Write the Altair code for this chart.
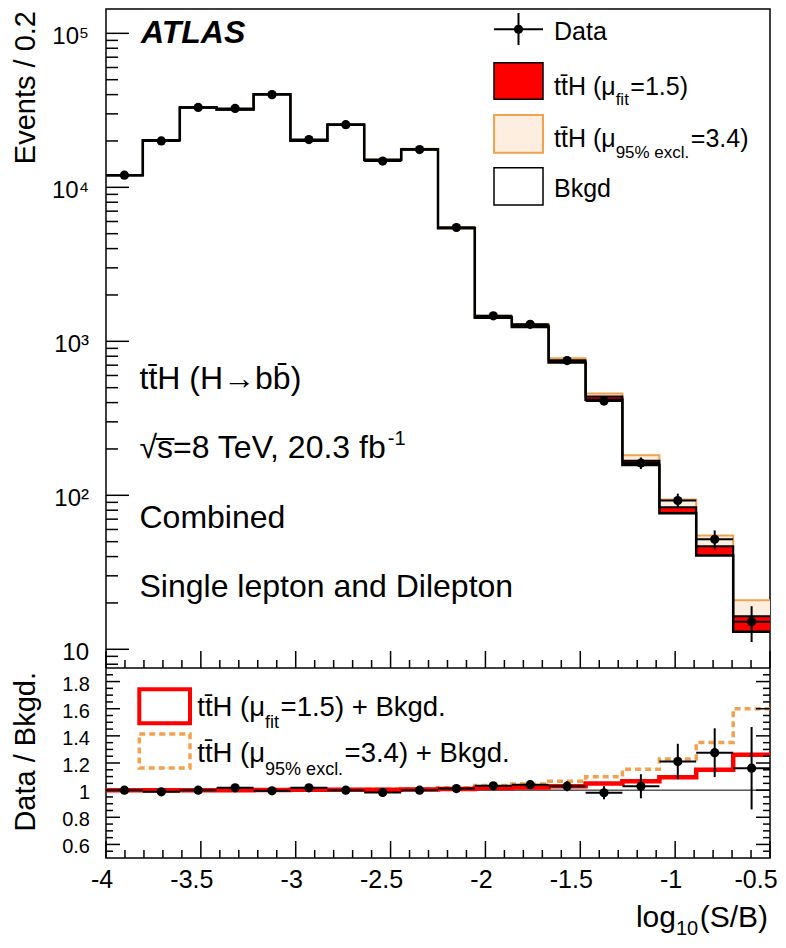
import altair as alt
import pandas as pd

# ---------------- data ----------------
bin_edges = [-4.0, -3.806, -3.611, -3.417, -3.222, -3.028, -2.833, -2.639, -2.444,
             -2.25, -2.056, -1.861, -1.667, -1.472, -1.278, -1.083, -0.889, -0.694, -0.5]
bkgd = [12000, 20250, 33000, 32000, 40200, 20100, 25500, 15050, 17600,
        5420, 1420, 1240, 729, 417, 157.5, 76.4, 40.6, 13.0]
data_vals = [12000, 20000, 33000, 32550, 40000, 20440, 25500, 14800, 17600,
             5485, 1465, 1290, 750, 409, 162, 92.5, 51.8, 15.1]
data_err = [110, 141, 182, 180, 200, 143, 160, 122, 133,
            74, 38, 36, 27, 20, 14, 10, 7.3, 3.95]
fit_ratio = [1.0, 1.0, 1.0, 1.0, 1.001, 1.002, 1.002, 1.003, 1.005,
             1.008, 1.015, 1.02, 1.029, 1.049, 1.066, 1.095, 1.151, 1.261]
excl_ratio = [1.0, 1.0, 1.0, 1.001, 1.002, 1.004, 1.005, 1.007, 1.011,
              1.018, 1.034, 1.045, 1.066, 1.098, 1.154, 1.23, 1.351, 1.60]

x_major = [-4, -3.5, -3, -2.5, -2, -1.5, -1, -0.5]
x_major_text = ["-4", "-3.5", "-3", "-2.5", "-2", "-1.5", "-1", "-0.5"]
y_top_major = [10, 100, 1000, 10000, 100000]
y_top_text = ["10", "10²", "10³", "10⁴", "10⁵"]
y_bot_major = [0.6, 0.8, 1.0, 1.2, 1.4, 1.6, 1.8]
y_bot_text = ["0.6", "0.8", "1", "1.2", "1.4", "1.6", "1.8"]

# ---------------- style / layout ----------------
FONT = "Liberation Sans"
RED = "#ff0000"
ORANGE = "#f2a24f"
PALE = "#fdeedf"
W, H = 664, 849
HT = 659  # bottom of upper panel in plot coordinates

XS = alt.Scale(domain=[-4, -0.5], nice=False, zero=False)
YT = alt.Scale(type="log", domain=[7.56, 143900], range=[HT, 0], nice=False)
YB = alt.Scale(domain=[0.5, 1.9], range=[H, HT], nice=False, zero=False)

bins = pd.DataFrame({"lo": bin_edges[:-1], "hi": bin_edges[1:], "B": bkgd,
                     "data": data_vals, "err": data_err,
                     "fit": fit_ratio, "excl": excl_ratio})
bins["mid"] = (bins.lo + bins.hi) / 2
bins["fit_top"] = bins.B * bins.fit
bins["excl_top"] = bins.B * bins.excl
bins["d_lo"] = bins.data - bins.err
bins["d_hi"] = bins.data + bins.err
bins["r"] = bins.data / bins.B
bins["r_lo"] = bins.d_lo / bins.B
bins["r_hi"] = bins.d_hi / bins.B

steps = pd.DataFrame({"x": bin_edges,
                      "B": bkgd + bkgd[-1:],
                      "fit_top": list(bins.fit_top) + [bins.fit_top.iloc[-1]],
                      "excl_top": list(bins.excl_top) + [bins.excl_top.iloc[-1]],
                      "fit": fit_ratio + fit_ratio[-1:],
                      "excl": excl_ratio + excl_ratio[-1:]})

# tick positions
x_minor = [round(-4 + 0.1 * k, 3) for k in range(36)]
x_minor = [v for v in x_minor if min(abs(v - m) for m in x_major) > 1e-6]
y_top_minor = [m * 10 ** e for e in range(0, 6) for m in range(2, 10)
               if 7.56 <= m * 10 ** e <= 143900]
y_bot_minor = [round(0.55 + 0.05 * k, 3) for k in range(27)]
y_bot_minor = [v for v in y_bot_minor if min(abs(v - m) for m in y_bot_major) > 1e-6]

df_xmaj = pd.DataFrame({"v": x_major, "t": x_major_text})
df_xmin = pd.DataFrame({"v": x_minor})
df_ytmaj = pd.DataFrame({"v": y_top_major, "t": y_top_text})
df_ytmin = pd.DataFrame({"v": y_top_minor})
df_ybmaj = pd.DataFrame({"v": y_bot_major, "t": y_bot_text})
df_ybmin = pd.DataFrame({"v": y_bot_minor})
df_xlab_int = df_xmaj[df_xmaj.v % 1 == 0]
df_xlab_dec = df_xmaj[(df_xmaj.v % 1 != 0) & (df_xmaj.v > -4) & (df_xmaj.v < -0.5)]
df_xlab_end = df_xmaj[df_xmaj.v == -0.5]


def xq(f):
    return alt.X(f, type="quantitative", scale=XS, axis=None)


def ytq(f):
    return alt.Y(f, type="quantitative", scale=YT, axis=None)


def ybq(f):
    return alt.Y(f, type="quantitative", scale=YB, axis=None)


def tick_rule(df):
    return alt.Chart(df).mark_rule(color="black", strokeWidth=1.5)


# ---------------- upper panel ----------------
u_excl_rect = alt.Chart(bins).mark_rect(fill=PALE).encode(
    x=xq("lo"), x2=alt.X2("hi"), y=ytq("B"), y2=alt.Y2("excl_top"))
u_excl_line = alt.Chart(steps).mark_line(interpolate="step-after", color=ORANGE,
                                         strokeWidth=2).encode(x=xq("x"), y=ytq("excl_top"))
u_fit_rect = alt.Chart(bins).mark_rect(fill=RED).encode(
    x=xq("lo"), x2=alt.X2("hi"), y=ytq("B"), y2=alt.Y2("fit_top"))
u_fit_line = alt.Chart(steps).mark_line(interpolate="step-after", color="black",
                                        strokeWidth=2).encode(x=xq("x"), y=ytq("fit_top"))
u_bkg_line = alt.Chart(steps).mark_line(interpolate="step-after", color="black",
                                        strokeWidth=2.5).encode(x=xq("x"), y=ytq("B"))
u_hbar = alt.Chart(bins).mark_rule(color="black", strokeWidth=2).encode(
    x=xq("lo"), x2=alt.X2("hi"), y=ytq("data"))
u_vbar = alt.Chart(bins).mark_rule(color="black", strokeWidth=2).encode(
    x=xq("mid"), y=ytq("d_lo"), y2=alt.Y2("d_hi"))
u_pts = alt.Chart(bins).mark_circle(color="black", opacity=1, size=85).encode(
    x=xq("mid"), y=ytq("data"))
u_ytick_maj = tick_rule(df_ytmaj).encode(x=alt.value(0), x2=alt.value(23), y=ytq("v"))
u_ytick_min = tick_rule(df_ytmin).encode(x=alt.value(0), x2=alt.value(12), y=ytq("v"))
u_xtick_maj = tick_rule(df_xmaj).encode(x=xq("v"), y=alt.value(HT - 17), y2=alt.value(HT))
u_xtick_min = tick_rule(df_xmin).encode(x=xq("v"), y=alt.value(HT - 8), y2=alt.value(HT))
u_ylab = alt.Chart(df_ytmaj).mark_text(align="right", baseline="middle", font=FONT,
                                       fontSize=24, dy=4, color="black").encode(
    x=alt.value(-17), y=ytq("v"), text="t:N")

upper = alt.layer(u_excl_rect, u_excl_line, u_fit_rect, u_fit_line, u_bkg_line,
                  u_hbar, u_vbar, u_pts, u_ytick_maj, u_ytick_min,
                  u_xtick_maj, u_xtick_min, u_ylab)

# ---------------- lower (ratio) panel ----------------
one_row = pd.DataFrame({"one": [1.0]})
l_unity = alt.Chart(one_row).mark_rule(color="black", strokeWidth=1).encode(
    x=alt.value(0), x2=alt.value(W), y=ybq("one"))
l_excl = alt.Chart(steps).mark_line(interpolate="step-after", color=ORANGE,
                                    strokeWidth=3.5, strokeDash=[6, 4]).encode(
    x=xq("x"), y=ybq("excl"))
l_fit = alt.Chart(steps).mark_line(interpolate="step-after", color=RED,
                                   strokeWidth=4.5).encode(x=xq("x"), y=ybq("fit"))
l_hbar = alt.Chart(bins).mark_rule(color="black", strokeWidth=2).encode(
    x=xq("lo"), x2=alt.X2("hi"), y=ybq("r"))
l_vbar = alt.Chart(bins).mark_rule(color="black", strokeWidth=2).encode(
    x=xq("mid"), y=ybq("r_lo"), y2=alt.Y2("r_hi"))
l_pts = alt.Chart(bins).mark_circle(color="black", opacity=1, size=85).encode(
    x=xq("mid"), y=ybq("r"))
l_ytick_maj_l = tick_rule(df_ybmaj).encode(x=alt.value(0), x2=alt.value(14), y=ybq("v"))
l_ytick_min_l = tick_rule(df_ybmin).encode(x=alt.value(0), x2=alt.value(7), y=ybq("v"))
l_ytick_maj_r = tick_rule(df_ybmaj).encode(x=alt.value(W - 14), x2=alt.value(W), y=ybq("v"))
l_ytick_min_r = tick_rule(df_ybmin).encode(x=alt.value(W - 7), x2=alt.value(W), y=ybq("v"))
l_xtick_maj = tick_rule(df_xmaj).encode(x=xq("v"), y=alt.value(H - 17), y2=alt.value(H))
l_xtick_min = tick_rule(df_xmin).encode(x=xq("v"), y=alt.value(H - 8), y2=alt.value(H))
l_ylab = alt.Chart(df_ybmaj).mark_text(align="right", baseline="middle", font=FONT,
                                       fontSize=20, dy=3, color="black").encode(
    x=alt.value(-16), y=ybq("v"), text="t:N")


def xlab(df, dx):
    return alt.Chart(df).mark_text(align="center", baseline="alphabetic", font=FONT,
                                   fontSize=25, dx=dx, color="black").encode(
        x=xq("v"), y=alt.value(H + 30), text="t:N")


lower = alt.layer(l_unity, l_excl, l_fit, l_hbar, l_vbar, l_pts,
                  l_ytick_maj_l, l_ytick_min_l, l_ytick_maj_r, l_ytick_min_r,
                  l_xtick_maj, l_xtick_min, l_ylab,
                  xlab(df_xlab_int, -4), xlab(df_xlab_dec, -9), xlab(df_xlab_end, -14))

# ---------------- annotations & legends ----------------
ARIAL = {' ': 278, '(': 333, ')': 333, '=': 584, '.': 278, ',': 278, '%': 889, '+': 584,
         '-': 333, '/': 278, 'A': 667, 'B': 667, 'C': 722, 'D': 722, 'E': 667, 'H': 722,
         'L': 556, 'S': 667, 'T': 611, 'V': 667, 'a': 556, 'b': 556, 'c': 500, 'd': 556,
         'e': 556, 'f': 278, 'g': 556, 'i': 222, 'k': 500, 'l': 222, 'm': 833, 'n': 556,
         'o': 556, 'p': 556, 's': 500, 't': 278, 'v': 500, 'x': 500, 'μ': 576,
         '√': 549, '→': 1000}


def tw(s, size):
    return sum(ARIAL.get(c, 556) for c in s if c not in "\u0305\u0304") * size / 1000.0


ONE = alt.Data(values=[{"k": 0}])


def txt(s, x, y, size, style="normal", weight="normal", align="left", angle=0):
    kw = dict(text=s, align=align, baseline="alphabetic", font=FONT, fontSize=size,
              fontStyle=style, fontWeight=weight, color="black")
    if angle:
        kw["angle"] = angle
    return alt.Chart(ONE).mark_text(**kw).encode(x=alt.value(x), y=alt.value(y))


def box(x1, y1, x2, y2, fill, stroke, sw, dash=None):
    kw = dict(fill=fill, stroke=stroke, strokeWidth=sw)
    if dash:
        kw["strokeDash"] = dash
    return alt.Chart(ONE).mark_rect(**kw).encode(
        x=alt.value(x1), x2=alt.value(x2), y=alt.value(y1), y2=alt.value(y2))


def seg(x1, y1, x2, y2, sw=2):
    return alt.Chart(ONE).mark_rule(color="black", strokeWidth=sw).encode(
        x=alt.value(x1), x2=alt.value(x2), y=alt.value(y1), y2=alt.value(y2))


def rich(x, y, parts, size, sub_size, sub_dy):
    out = []
    cx = x
    for s, small in parts:
        fs = sub_size if small else size
        out.append(txt(s, cx, y + (sub_dy if small else 0), fs))
        cx += tw(s, fs) + (1.5 if small else 0)
    return out


TTH = "tt\u0304H"
ann = []
ann.append(txt("ATLAS", 35, 34.3, 32, style="italic", weight="bold"))
# axis titles
ann.append(txt("Events / 0.2", -71, 2, 29, align="right", angle=270))
ann.append(txt("Data / Bkgd.", -71, 663, 29, align="right", angle=270))
xt_parts = [("log", False), ("10", True), ("(S/B)", False)]
xt_w = tw("log", 30) + tw("10", 20) + 1.5 + tw("(S/B)", 30)
ann += rich(662 - xt_w, 918, xt_parts, 30, 20, 8)
# upper legend
ann += [seg(388, 20.3, 437, 20.3), seg(412.5, 4, 412.5, 36),
        alt.Chart(ONE).mark_circle(color="black", opacity=1, size=85).encode(
            x=alt.value(412.5), y=alt.value(20.3))]
ann.append(txt("Data", 448, 31, 25))
ann.append(box(388, 53.7, 437, 90.3, RED, "black", 1.5))
ann += rich(448, 86.3, [(TTH + " (μ", False), ("fit", True), ("=1.5)", False)], 25, 17, 10)
ann.append(box(388, 106, 437, 143.7, PALE, ORANGE, 2))
ann += rich(448, 137.7, [(TTH + " (μ", False), ("95% excl.", True), ("=3.4)", False)],
            25, 17, 11.6)
ann.append(box(388, 158.7, 437, 196, "white", "black", 1.5))
ann.append(txt("Bkgd", 448, 188.3, 25))
# upper panel labels
ann.append(txt(TTH + " (H\u2192bb\u0304)", 33.5, 380.3, 32))
s_line = "\u221As\u0305=8 TeV, 20.3 fb"
ann.append(txt(s_line, 33.5, 449, 32))
ann.append(txt("-1", 33.5 + tw(s_line, 32) - 5, 436, 20))
ann.append(txt("Combined", 33.5, 519.3, 32))
ann.append(txt("Single lepton and Dilepton", 33.5, 587.7, 32))
# lower legend
ann.append(box(33.3, 680.3, 84, 714.3, "white", RED, 4))
ann += rich(91.3, 707, [(TTH + " (μ", False), ("fit", True), ("=1.5) + Bkgd.", False)],
            27.5, 18, 12)
ann.append(box(33.3, 725, 84, 759, "white", ORANGE, 3.5, dash=[6, 4]))
ann += rich(91.3, 752.7, [(TTH + " (μ", False), ("95% excl.", True),
                          ("=3.4) + Bkgd.", False)], 27.5, 18, 13.3)

separator = alt.Chart(ONE).mark_rule(color="black", strokeWidth=1.5).encode(
    x=alt.value(0), x2=alt.value(W), y=alt.value(HT))

chart = alt.layer(upper, lower, separator, *ann).resolve_scale(y="independent").properties(
    width=W, height=H,
    autosize=alt.AutoSizeParams(type="none"),
    padding={"left": 98, "top": 1, "right": 8, "bottom": 82},
).configure_view(stroke="black", strokeWidth=1.5)

chart.save("out.html", embed_options={"renderer": "svg", "actions": False})
